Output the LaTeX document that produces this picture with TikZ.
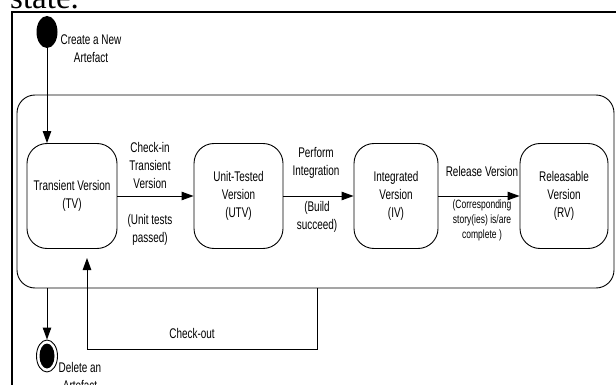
\documentclass[tikz,border=0pt]{standalone}
\usepackage{fontspec}
\setmainfont[FakeStretch=0.71]{Liberation Sans}
\newfontfamily\serifx[FakeStretch=1.0]{Liberation Serif}
\usetikzlibrary{arrows.meta,shapes.geometric}
\begin{document}
\begin{tikzpicture}[x=1pt,y=-1pt,
  ln/.style={line width=0.9pt,draw=black},
  arr/.style={ln,-{Triangle[length=12pt,width=8.5pt]}},
  txt/.style={font=\fontsize{14}{18}\selectfont,align=center,inner sep=0pt},
  smalltxt/.style={font=\fontsize{12}{15}\selectfont,align=center,inner sep=0pt},
  statebox/.style={ln,rounded corners=20pt,minimum height=105pt,txt}]
\useasboundingbox (0,0) rectangle (616,385);
\clip (0,0) rectangle (616,385);
% cropped caption text and frame
\node[anchor=base west,font=\serifx\fontsize{33}{36}\selectfont,inner sep=0pt] (st) at (10,9) {state.};
\draw[line width=2pt] (630,12.5) -- (12,12.5) -- (12,400);
% composite state
\node[ln,rounded corners=18pt,minimum width=597pt,minimum height=193pt,inner sep=0pt] (comp) at (315.5,191.5) {};
% states
\node[statebox,minimum width=90pt] (TV) at (72,196) {Transient Version\\(TV)};
\node[statebox,minimum width=89pt] (UTV) at (238.5,196) {Unit-Tested\\Version\\(UTV)};
\node[statebox,minimum width=84pt] (IV) at (396,196) {Integrated\\Version\\(IV)};
\node[statebox,minimum width=88pt] (RV) at (564,196) {Releasable\\Version\\(RV)};
% initial state
\node[ellipse,fill=black,minimum width=21pt,minimum height=32pt,inner sep=0pt] (init) at (47,32) {};
\node[txt] (initlab) at (91,49) {Create a New\\Artefact};
\draw[arr] (init.south) -- (init.south |- TV.north);
% transitions
\draw[arr] (TV) -- (UTV);
\node[txt] (l1a) at (150,165.5) {Check-in\\Transient\\Version};
\node[txt] (l1b) at (150,230) {(Unit tests\\passed)};
\draw[arr] (UTV) -- (IV);
\node[txt] (l2a) at (316,163) {Perform\\Integration};
\node[txt] (l2b) at (317,216.5) {(Build\\succeed)};
\draw[arr] (IV) -- (RV);
\node[txt] (l3a) at (482,171) {Release Version};
\node[smalltxt] (l3b) at (482,220) {(Corresponding\\story(ies) is/are\\complete )};
% check-out
\coordinate (cb) at (317,349);
\coordinate (ct) at (87,258);
\draw[arr] (comp.south -| cb) -- (cb) -- (cb -| ct) -- (ct);
\node[txt] (colab) at (192,333) {Check-out};
% final state
\node[ellipse,ln,minimum width=21pt,minimum height=32pt,inner sep=0pt] (fin) at (47,356) {};
\node[ellipse,fill=black,minimum width=15pt,minimum height=25pt,inner sep=0pt] (fininner) at (fin) {};
\draw[arr] (comp.south -| fin) -- (fin.north);
\node[txt] (finlab) at (80,376) {Delete an\\Artefact};
\end{tikzpicture}
\end{document}
